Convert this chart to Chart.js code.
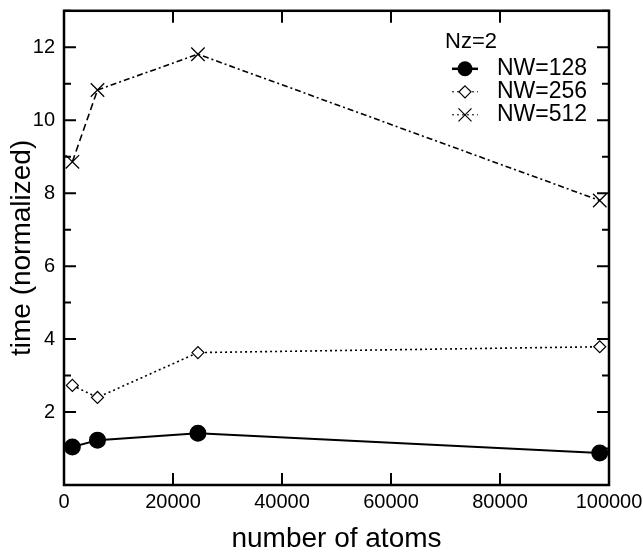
<!DOCTYPE html>
<html>
<head>
<meta charset="utf-8">
<script src="https://cdn.jsdelivr.net/npm/chart.js@4.4.1/dist/chart.umd.min.js"></script>
<style>
html, body { margin: 0; padding: 0; background: #fff; }
#wrap { width: 643px; height: 553px; }
</style>
</head>
<body>
<div id="wrap"><canvas id="myChart"></canvas></div>
<script>
// values
var atoms = [1536, 6144, 24576, 98304];
var nw128 = [1.04, 1.23, 1.42, 0.88];
var nw256 = [2.73, 2.40, 3.63, 3.79];
var nw512 = [8.86, 10.83, 11.81, 7.80];
var seriesNames = ['NW=128', 'NW=256', 'NW=512'];
var legendTitle = 'Nz=2';
var xTickLabels = [0, 20000, 40000, 60000, 80000, 100000];
var yTickLabels = [2, 4, 6, 8, 10, 12];

var FONT = "'Liberation Sans', Arial, Helvetica, sans-serif";

function pts(ys) {
    return atoms.map(function (a, i) { return {x: a, y: ys[i]}; });
}

// ticks pointing into the plot on all four sides + frame
var inwardTicks = {
    id: 'inwardTicks',
    afterDraw: function (chart) {
        var ctx = chart.ctx, a = chart.chartArea;
        var xs = chart.scales.x, ys = chart.scales.y;
        ctx.save();
        ctx.strokeStyle = '#000';
        ctx.lineWidth = 2;
        xs.ticks.forEach(function (t) {
            var px = xs.getPixelForValue(t.value);
            ctx.beginPath();
            ctx.moveTo(px, a.bottom); ctx.lineTo(px, a.bottom - 12);
            ctx.moveTo(px, a.top); ctx.lineTo(px, a.top + 12);
            ctx.stroke();
        });
        ys.ticks.forEach(function (t) {
            var py = ys.getPixelForValue(t.value);
            var len = t.value % 2 === 0 ? 12 : 7;
            ctx.beginPath();
            ctx.moveTo(a.left, py); ctx.lineTo(a.left + len, py);
            ctx.moveTo(a.right, py); ctx.lineTo(a.right - len, py);
            ctx.stroke();
        });
        ctx.lineWidth = 2.5;
        ctx.strokeRect(a.left, a.top, a.right - a.left, a.bottom - a.top);
        ctx.restore();
    }
};

function marker(ctx, style, x, y) {
    ctx.beginPath();
    if (style === 'circle') {
        ctx.arc(x, y, 7.5, 0, Math.PI * 2);
        ctx.fillStyle = '#000';
        ctx.fill();
    } else if (style === 'diamond') {
        ctx.moveTo(x, y - 6); ctx.lineTo(x + 6, y); ctx.lineTo(x, y + 6); ctx.lineTo(x - 6, y);
        ctx.closePath();
        ctx.fillStyle = '#fff';
        ctx.fill();
        ctx.lineWidth = 1.2;
        ctx.setLineDash([]);
        ctx.stroke();
    } else {
        ctx.moveTo(x - 6.5, y - 6.5); ctx.lineTo(x + 6.5, y + 6.5);
        ctx.moveTo(x + 6.5, y - 6.5); ctx.lineTo(x - 6.5, y + 6.5);
        ctx.lineWidth = 1.2;
        ctx.setLineDash([]);
        ctx.stroke();
    }
}

// legend inside the plot, upper right
var boxLegend = {
    id: 'boxLegend',
    afterDraw: function (chart) {
        var ctx = chart.ctx, a = chart.chartArea;
        var styles = ['circle', 'diamond', 'cross'];
        var dashes = [[], [2, 3], [2, 3]];
        var widths = [2.5, 1, 1];
        var x0 = a.right - 164, y0 = a.top + 31;
        ctx.save();
        ctx.fillStyle = '#000';
        ctx.textBaseline = 'middle';
        ctx.font = '22px ' + FONT;
        ctx.fillText(legendTitle, x0, y0);
        for (var i = 0; i < seriesNames.length; i++) {
            var y = y0 + 27 + i * 23;
            ctx.strokeStyle = '#000';
            ctx.setLineDash(dashes[i]);
            ctx.lineWidth = widths[i];
            ctx.beginPath();
            ctx.moveTo(x0 + 7, y); ctx.lineTo(x0 + 33, y);
            ctx.stroke();
            marker(ctx, styles[i], x0 + 20, y);
            ctx.fillStyle = '#000';
            ctx.font = '23px ' + FONT;
            ctx.fillText(seriesNames[i], x0 + 52, y);
        }
        ctx.restore();
    }
};

function noPad(s) {
    s.paddingTop = 0; s.paddingBottom = 0;
    s.paddingLeft = 0; s.paddingRight = 0;
}

var ctx = document.getElementById('myChart');
var myChart = new Chart(ctx, {
    type: 'line',
    data: {
        datasets: [{
                label: seriesNames[0],
                data: pts(nw128),
                borderColor: '#000',
                borderWidth: 2,
                pointStyle: 'circle',
                pointRadius: 7.5,
                pointBackgroundColor: '#000',
                pointBorderColor: '#000'
            }, {
                label: seriesNames[1],
                data: pts(nw256),
                borderColor: '#000',
                borderWidth: 1.6,
                borderDash: [2, 3],
                pointStyle: 'rectRot',
                pointRadius: 6,
                pointBackgroundColor: '#fff',
                pointBorderColor: '#000',
                pointBorderWidth: 1.2
            }, {
                label: seriesNames[2],
                data: pts(nw512),
                borderColor: '#000',
                borderWidth: 1.6,
                borderDash: [6, 3, 2, 3],
                segment: {
                    borderDash: function (c) { return c.p0DataIndex === 0 ? [7, 4] : undefined; }
                },
                pointStyle: 'crossRot',
                pointRadius: 9.5,
                pointBorderColor: '#000',
                pointBorderWidth: 1.3
            }
        ]
    },
    options: {
        responsive: true,
        maintainAspectRatio: false,
        animation: false,
        devicePixelRatio: 1,
        layout: {padding: {top: 8, right: 34, left: 0, bottom: 0}},
        plugins: {
            legend: {display: false},
            tooltip: {enabled: false}
        },
        scales: {
            x: {
                type: 'linear',
                min: 0,
                max: 100000,
                afterFit: function (s) { s.height = 68; noPad(s); },
                grid: {display: false, drawTicks: false},
                border: {display: false},
                ticks: {
                    stepSize: 20000,
                    autoSkip: false,
                    maxRotation: 0,
                    padding: 5,
                    color: '#000',
                    font: {family: FONT, size: 20},
                    callback: function (v) { return xTickLabels.indexOf(v) >= 0 ? String(v) : ''; }
                },
                title: {
                    display: true,
                    text: 'number of atoms',
                    color: '#000',
                    padding: 0,
                    font: {family: FONT, size: 28, lineHeight: 1}
                }
            },
            y: {
                min: 0,
                max: 13,
                afterFit: function (s) { s.width = 64; noPad(s); },
                grid: {display: false, drawTicks: false},
                border: {display: false},
                ticks: {
                    stepSize: 1,
                    autoSkip: false,
                    padding: 9,
                    color: '#000',
                    font: {family: FONT, size: 20},
                    callback: function (v) { return yTickLabels.indexOf(v) >= 0 ? String(v) : ''; }
                },
                title: {
                    display: true,
                    text: 'time (normalized)',
                    color: '#000',
                    padding: {top: 8, bottom: 0},
                    font: {family: FONT, size: 28, lineHeight: 1}
                }
            }
        }
    },
    plugins: [inwardTicks, boxLegend]
});
</script>
</body>
</html>
